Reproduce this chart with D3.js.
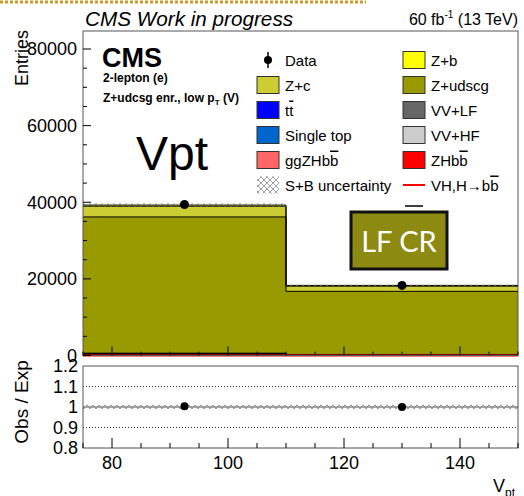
<!DOCTYPE html>
<html lang="en">
<head>
<meta charset="UTF-8">
<title>Vpt LF CR</title>
<style>
  body { margin: 0; background: #fff; }
  svg { display: block; font-family: "Liberation Sans", Arial, Helvetica, sans-serif; }
</style>
</head>
<body>
<svg id="chart" width="524" height="496"></svg>
<script src="https://cdn.jsdelivr.net/npm/d3@7/dist/d3.min.js"></script>
<script>
// histogram binning in V_pt
const binEdges = [75, 110, 150]
const binCenters = [92.5, 130]

// backgrounds and signal per bin (stack order bottom -> top)
const vvHF = [60, 30]
const vvLF = [300, 130]
const singleTop = [30, 20]
const ttbar = [150, 80]
const ggZHbb = [5, 3]
const ZHbb = [20, 10]
const zUdscg = [35600, 16470]
const zC = [2800, 1350]
const zB = [300, 200]

const dataCounts = [39400, 18300]
const dataErrors = [198, 135]
const sbUncert = [420, 200]
const vhSignal = [25, 13]

const yTicks = [0, 20000, 40000, 60000, 80000]
const xTicks = [80, 100, 120, 140]
const ratioTicks = [0.8, 0.9, 1, 1.1, 1.2]

const stackKeys = ["VV+HF", "VV+LF", "Single top", "tt", "ggZHbb", "ZHbb", "Z+udscg", "Z+c", "Z+b"]
const stackVals = [vvHF, vvLF, singleTop, ttbar, ggZHbb, ZHbb, zUdscg, zC, zB]
const colors = {
  "Z+b": "#ffff00", "Z+c": "#cccc33", "Z+udscg": "#999900",
  "tt": "#0000ff", "Single top": "#0066cc", "ggZHbb": "#ff6666",
  "VV+LF": "#666666", "VV+HF": "#cccccc", "ZHbb": "#ff0000"
}

const svg = d3.select("#chart")
const frameL = 83, frameR = 518
const upTop = 31, upBot = 355.5
const loTop = 366, loBot = 448

// hatch pattern for uncertainty band
const defs = svg.append("defs")
const pat = defs.append("pattern").attr("id", "hatch")
  .attr("patternUnits", "userSpaceOnUse").attr("width", 6).attr("height", 6)
pat.append("path").attr("d", "M0,0L6,6M6,0L0,6").attr("stroke", "#777").attr("stroke-width", 0.7)

// orange dotted strip at the very top
svg.append("line").attr("x1", 0).attr("x2", 366).attr("y1", 2).attr("y2", 2)
  .attr("stroke", "#cf9a24").attr("stroke-width", 3).attr("stroke-dasharray", "3,2")

const x = d3.scaleLinear().domain([binEdges[0], binEdges[2]]).range([frameL, frameR])
const y = d3.scaleLinear().domain([0, 84700]).range([upBot, upTop])
const yr = d3.scaleLinear().domain([0.8, 1.2]).range([loBot, loTop])

// stack
const rows = binCenters.map((c, i) => {
  const r = { bin: i }
  stackKeys.forEach((k, j) => r[k] = stackVals[j][i])
  return r
})
const series = d3.stack().keys(stackKeys)(rows)
const totals = rows.map(r => d3.sum(stackKeys, k => r[k]))

const up = svg.append("g")
series.forEach(s => {
  up.selectAll(null).data(s).enter().append("rect")
    .attr("x", (d, i) => x(binEdges[i]))
    .attr("width", (d, i) => x(binEdges[i + 1]) - x(binEdges[i]))
    .attr("y", d => y(d[1]))
    .attr("height", d => y(d[0]) - y(d[1]))
    .attr("fill", colors[s.key])
})
const stepLine = d3.line().curve(d3.curveStepAfter).x(d => x(d[0])).y(d => y(d[1]))
series.forEach(s => {
  const pts = s.map((d, i) => [binEdges[i], d[1]])
  pts.push([binEdges[2], s[s.length - 1][1]])
  up.append("path").attr("d", stepLine(pts)).attr("fill", "none")
    .attr("stroke", "#000").attr("stroke-width", 1)
})
// VH signal line
const vhPts = vhSignal.map((v, i) => [binEdges[i], v])
vhPts.push([binEdges[2], vhSignal[vhSignal.length - 1]])
up.append("path").attr("d", stepLine(vhPts)).attr("fill", "none")
  .attr("stroke", "#ff0000").attr("stroke-width", 2)

// S+B uncertainty
up.selectAll(null).data(totals).enter().append("rect")
  .attr("x", (d, i) => x(binEdges[i]))
  .attr("width", (d, i) => x(binEdges[i + 1]) - x(binEdges[i]))
  .attr("y", (d, i) => y(d + sbUncert[i]))
  .attr("height", (d, i) => y(d - sbUncert[i]) - y(d + sbUncert[i]))
  .attr("fill", "url(#hatch)")

// data points
up.selectAll(null).data(dataCounts).enter().append("line")
  .attr("x1", (d, i) => x(binCenters[i])).attr("x2", (d, i) => x(binCenters[i]))
  .attr("y1", (d, i) => y(d - dataErrors[i])).attr("y2", (d, i) => y(d + dataErrors[i]))
  .attr("stroke", "#000").attr("stroke-width", 1.5)
up.selectAll(null).data(dataCounts).enter().append("circle")
  .attr("cx", (d, i) => x(binCenters[i])).attr("cy", d => y(d)).attr("r", 4.5).attr("fill", "#000")

// upper frame + ticks
up.append("rect").attr("x", frameL).attr("y", upTop).attr("width", frameR - frameL).attr("height", upBot - upTop)
  .attr("fill", "none").attr("stroke", "#555").attr("stroke-width", 1)
const yMinor = d3.range(0, 84700, 5000)
up.selectAll(null).data(yMinor).enter().append("line")
  .attr("x1", frameL).attr("x2", d => frameL + (d % 20000 === 0 ? 8 : 4))
  .attr("y1", d => y(d)).attr("y2", d => y(d)).attr("stroke", "#000")
const xMinor = d3.range(75, 151, 5)
up.selectAll(null).data(xMinor).enter().append("line")
  .attr("x1", d => x(d)).attr("x2", d => x(d))
  .attr("y1", upBot).attr("y2", d => upBot - (d % 20 === 0 ? 9 : 4)).attr("stroke", "#000")
up.selectAll(null).data(yTicks).enter().append("text")
  .attr("x", 77).attr("y", d => y(d)).attr("dy", "0.35em")
  .attr("text-anchor", "end").attr("font-size", 18).text(d => d)

// lower (ratio) panel
const lo = svg.append("g")
lo.selectAll(null).data([0.9, 1.1]).enter().append("line")
  .attr("x1", frameL).attr("x2", frameR).attr("y1", d => yr(d)).attr("y2", d => yr(d))
  .attr("stroke", "#000").attr("stroke-width", 0.8).attr("stroke-dasharray", "1,2")
lo.selectAll(null).data(totals).enter().append("rect")
  .attr("x", (d, i) => x(binEdges[i]))
  .attr("width", (d, i) => x(binEdges[i + 1]) - x(binEdges[i]))
  .attr("y", (d, i) => yr(1 + sbUncert[i] / d))
  .attr("height", (d, i) => yr(1 - sbUncert[i] / d) - yr(1 + sbUncert[i] / d))
  .attr("fill", "url(#hatch)")
lo.append("line").attr("x1", frameL).attr("x2", frameR).attr("y1", yr(1)).attr("y2", yr(1))
  .attr("stroke", "#888").attr("stroke-width", 1.5)
const ratios = dataCounts.map((d, i) => d / totals[i])
lo.selectAll(null).data(ratios).enter().append("line")
  .attr("x1", (d, i) => x(binCenters[i])).attr("x2", (d, i) => x(binCenters[i]))
  .attr("y1", (d, i) => yr(d - dataErrors[i] / totals[i])).attr("y2", (d, i) => yr(d + dataErrors[i] / totals[i]))
  .attr("stroke", "#000").attr("stroke-width", 1.5)
lo.selectAll(null).data(ratios).enter().append("circle")
  .attr("cx", (d, i) => x(binCenters[i])).attr("cy", d => yr(d)).attr("r", 4).attr("fill", "#000")
lo.append("rect").attr("x", frameL).attr("y", loTop).attr("width", frameR - frameL).attr("height", loBot - loTop)
  .attr("fill", "none").attr("stroke", "#555").attr("stroke-width", 1)
lo.selectAll(null).data(xMinor).enter().append("line")
  .attr("x1", d => x(d)).attr("x2", d => x(d))
  .attr("y1", loBot).attr("y2", d => loBot - (d % 20 === 0 ? 10 : 5)).attr("stroke", "#000")
lo.selectAll(null).data(ratioTicks).enter().append("text")
  .attr("x", 78).attr("y", d => yr(d)).attr("dy", "0.35em")
  .attr("text-anchor", "end").attr("font-size", 18).text(d => d)
lo.selectAll(null).data(xTicks).enter().append("text")
  .attr("x", d => x(d)).attr("y", 469)
  .attr("text-anchor", "middle").attr("font-size", 18).text(d => d)

// axis titles
svg.append("text").attr("transform", "translate(28,30) rotate(-90)")
  .attr("text-anchor", "end").attr("font-size", 18).text("Entries")
svg.append("text").attr("transform", "translate(28,402) rotate(-90)")
  .attr("text-anchor", "middle").attr("font-size", 19).text("Obs / Exp")
const xt = svg.append("text").attr("x", 493).attr("y", 492).attr("font-size", 18)
xt.append("tspan").text("V")
xt.append("tspan").attr("font-size", 12).attr("dy", 5).text("pt")

// header texts
svg.append("text").attr("x", 85).attr("y", 26).attr("font-size", 20.7)
  .attr("font-style", "italic").text("CMS Work in progress")
const lumi = svg.append("text").attr("x", 518).attr("y", 25).attr("font-size", 16).attr("text-anchor", "end")
lumi.append("tspan").text("60 fb")
lumi.append("tspan").attr("font-size", 10).attr("dy", -7).text("-1")
lumi.append("tspan").attr("dy", 7).text(" (13 TeV)")

svg.append("text").attr("x", 102).attr("y", 67).attr("font-size", 27).attr("font-weight", "bold").text("CMS")
svg.append("text").attr("x", 103).attr("y", 82).attr("font-size", 12).attr("font-weight", "bold").text("2-lepton (e)")
const sel = svg.append("text").attr("x", 103).attr("y", 102).attr("font-size", 12).attr("font-weight", "bold")
sel.append("tspan").text("Z+udcsg enr., low p")
sel.append("tspan").attr("font-size", 8).attr("dy", 3).text("T")
sel.append("tspan").attr("dy", -3).text(" (V)")

svg.append("text").attr("x", 136).attr("y", 170).attr("font-size", 48).text("Vpt")

// legend
const legendItems = [
  { label: [["Data"]], kind: "data" },
  { label: [["Z+b"]], kind: "box", key: "Z+b" },
  { label: [["Z+c"]], kind: "box", key: "Z+c" },
  { label: [["Z+udscg"]], kind: "box", key: "Z+udscg" },
  { label: [["t"], ["t", 1]], kind: "box", key: "tt" },
  { label: [["VV+LF"]], kind: "box", key: "VV+LF" },
  { label: [["Single top"]], kind: "box", key: "Single top" },
  { label: [["VV+HF"]], kind: "box", key: "VV+HF" },
  { label: [["ggZHb"], ["b", 1]], kind: "box", key: "ggZHbb" },
  { label: [["ZHb"], ["b", 1]], kind: "box", key: "ZHbb" },
  { label: [["S+B uncertainty"]], kind: "hatch" },
  { label: [["VH,H\u2192b"], ["b", 1]], kind: "line" }
]
const colX = [257, 403]
const rowY = [60, 85, 110, 135, 160, 185]
const leg = svg.append("g")
legendItems.forEach((it, i) => {
  const bx = colX[i % 2], cy = rowY[Math.floor(i / 2)]
  const g = leg.append("g")
  if (it.kind === "box") {
    g.append("rect").attr("x", bx).attr("y", cy - 8.5).attr("width", 22).attr("height", 17)
      .attr("fill", colors[it.key]).attr("stroke", "#333").attr("stroke-width", 1)
  } else if (it.kind === "hatch") {
    g.append("rect").attr("x", bx).attr("y", cy - 8.5).attr("width", 22).attr("height", 17)
      .attr("fill", "url(#hatch)")
  } else if (it.kind === "line") {
    g.append("line").attr("x1", bx).attr("x2", bx + 22).attr("y1", cy).attr("y2", cy)
      .attr("stroke", "#ff0000").attr("stroke-width", 2)
  } else {
    g.append("line").attr("x1", bx + 11).attr("x2", bx + 11).attr("y1", cy - 8).attr("y2", cy + 8)
      .attr("stroke", "#000").attr("stroke-width", 1.5)
    g.append("circle").attr("cx", bx + 11).attr("cy", cy).attr("r", 4).attr("fill", "#000")
  }
  const t = g.append("text").attr("x", bx + 28).attr("y", cy + 5.5).attr("font-size", 15)
  it.label.forEach(seg => {
    const ts = t.append("tspan").text(seg[0])
    if (seg[1]) ts.style("text-decoration", "overline")
  })
})

// LF CR tag
svg.append("line").attr("x1", 405).attr("x2", 423).attr("y1", 206).attr("y2", 206)
  .attr("stroke", "#000").attr("stroke-width", 1.5)
svg.append("rect").attr("x", 351).attr("y", 212).attr("width", 96).attr("height", 57)
  .attr("fill", "#8d8a12").attr("stroke", "#111").attr("stroke-width", 3)
svg.append("text").attr("x", 399).attr("y", 252).attr("text-anchor", "middle")
  .attr("font-family", "Lato, 'Open Sans', sans-serif").attr("font-size", 29).attr("fill", "#fff")
  .text("LF CR")
</script>
</body>
</html>
